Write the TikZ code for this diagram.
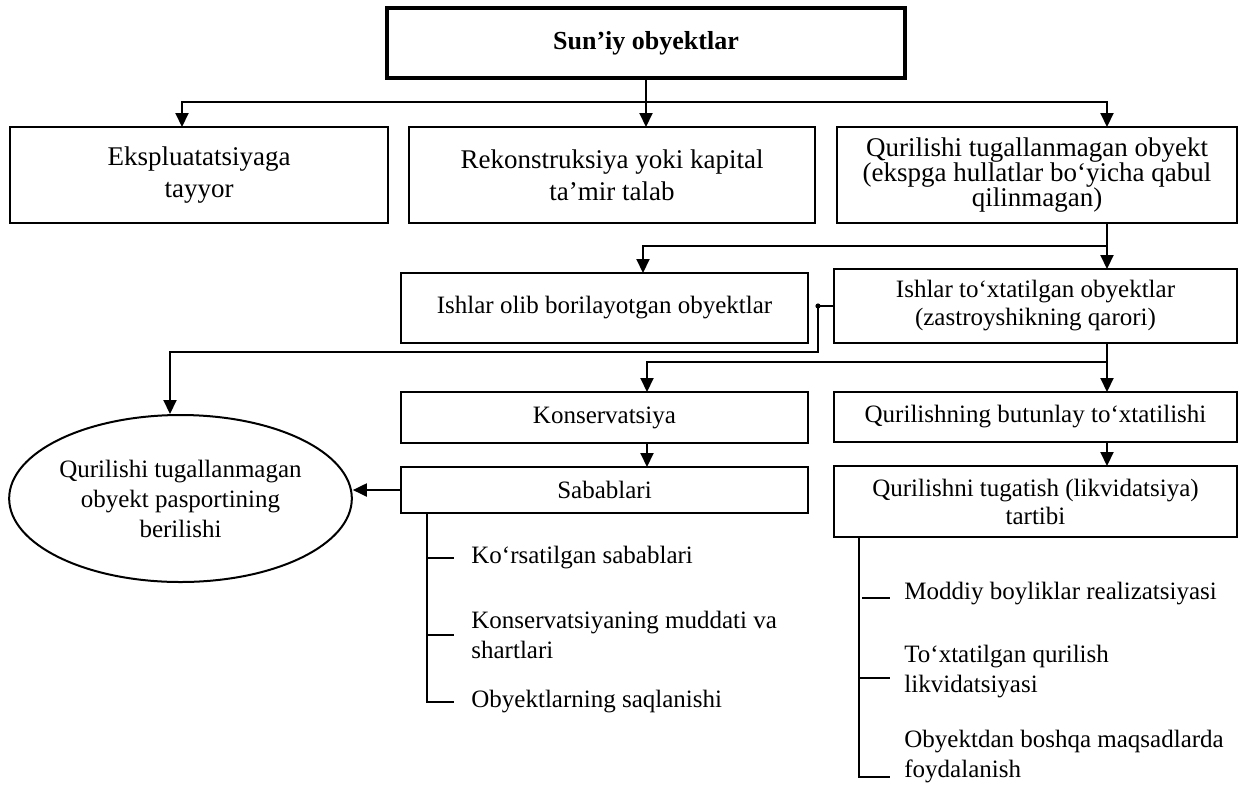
\documentclass[tikz,border=0pt]{standalone}
\usepackage{fontspec}
\setmainfont{Liberation Serif}
\usetikzlibrary{arrows.meta,shapes.geometric}

\begin{document}
\begin{tikzpicture}[x=0.5pt,y=-0.5pt,>={Triangle[width=6.5pt,length=7pt]},
    box/.style={draw, line width=1pt, inner sep=0pt, outer sep=0pt, align=center,
        font=\fontsize{12.5}{14}\selectfont},
    rowbox/.style={box, line width=1.3pt, font=\fontsize{13.5}{16}\selectfont},
    link/.style={line width=1pt},
    item/.style={anchor=west, align=left, inner sep=0pt, font=\fontsize{12.5}{15}\selectfont}]

\useasboundingbox (0,0) rectangle (1239,784);

% -------------------------
% Yuqori qism
% -------------------------
\node[box, line width=2pt, minimum width=259pt, minimum height=35pt,
    font=\fontsize{13}{15}\bfseries] (suniy) at (646,43) {Sun’iy obyektlar};

\node[rowbox, minimum width=189pt, minimum height=48pt] (eksp) at (199,175)
    {Ekspluatatsiyaga\\tayyor};
\node[rowbox, minimum width=203pt, minimum height=48pt] (rekon) at (612,175)
    {Rekonstruksiya yoki kapital\\ta’mir talab};
\node[rowbox, minimum width=200pt, minimum height=48pt,
    font=\fontsize{13.5}{12.5}\selectfont] (qurtug) at (1037,175)
    {Qurilishi tugallanmagan obyekt\\(ekspga hullatlar bo‘yicha qabul\\qilinmagan)};

% -------------------------
% O'rta qism
% -------------------------
\node[box, minimum width=203.5pt, minimum height=35pt] (olib) at (604.5,308)
    {Ishlar olib borilayotgan obyektlar};
\node[box, minimum width=201.5pt, minimum height=37pt] (toxt) at (1035.5,306)
    {Ishlar to‘xtatilgan obyektlar\\(zastroyshikning qarori)};

\node[box, minimum width=203.5pt, minimum height=25.5pt] (konserv) at (604.5,417.5)
    {Konservatsiya};
\node[box, minimum width=203.5pt, minimum height=23pt] (sabab) at (604.5,490)
    {Sabablari};
\node[box, minimum width=201.5pt, minimum height=25pt] (butun) at (1035.5,417)
    {Qurilishning butunlay to‘xtatilishi};
\node[box, minimum width=201.5pt, minimum height=35.5pt] (tugat) at (1035.5,501.5)
    {Qurilishni tugatish (likvidatsiya)\\tartibi};

\node[ellipse, draw, line width=1pt, inner sep=0pt, minimum width=167.5pt, minimum height=83.5pt,
    align=center, font=\fontsize{12.5}{15}\selectfont] (pasport) at (180.5,498.5)
    {Qurilishi tugallanmagan\\obyekt pasportining\\berilishi};

% -------------------------
% Ro'yxatlar
% -------------------------
\node[item] (sab1) at (471,558) {Ko‘rsatilgan sabablari};
\node[item] (sab2) at (471,635) {Konservatsiyaning muddati va\\shartlari};
\node[item] (sab3) at (471,702) {Obyektlarning saqlanishi};

\node[item] (tug1) at (904,594) {Moddiy boyliklar realizatsiyasi};
\node[item] (tug2) at (904,672) {To‘xtatilgan qurilish\\likvidatsiyasi};
\node[item] (tug3) at (904,757) {Obyektdan boshqa maqsadlarda\\foydalanish};

% -------------------------
% Tugun nuqtalari
% -------------------------
\coordinate (j0) at (646,102);
\coordinate (j0l) at (182,102);
\coordinate (j0r) at (1107,102);
\coordinate (j1) at (1107,246);
\coordinate (j1l) at (643,246);
\coordinate (j2) at (1107,362);
\coordinate (j2l) at (647,362);
\coordinate (b1) at (818,306);
\coordinate (b2) at (818,352);
\coordinate (b3) at (170,352);
\coordinate (s0) at (427,514);
\coordinate (t0) at (859,537);

% -------------------------
% Strelkalar
% -------------------------
\draw[link,->] (suniy.south) -- (rekon.north -| suniy.south);
\draw[link,->] (j0) -- (j0l) -- (eksp.north -| j0l);
\draw[link,->] (j0) -- (j0r) -- (qurtug.north -| j0r);

\draw[link,->] (qurtug.south -| j1) -- (toxt.north -| j1);
\draw[link,->] (j1) -- (j1l) -- (olib.north -| j1l);

\draw[link,->] (toxt.south -| j2) -- (butun.north -| j2);
\draw[link,->] (j2) -- (j2l) -- (konserv.north -| j2l);
\draw[link,->] (konserv.south -| j2l) -- (sabab.north -| j2l);
\draw[link,->] (butun.south -| j2) -- (tugat.north -| j2);

\draw[link,->] (toxt.west) -- (b1) -- (b2) -- (b3) -- (pasport.north -| b3);
\fill (b1) circle (1.3pt);
\draw[link,->] (sabab.west) -- (sabab.west -| pasport.east);

% -------------------------
% Qavslar
% -------------------------
\draw[link] (sabab.south -| s0) -- (s0 |- sab3.west) -- ([xshift=-8.5pt]sab3.west);
\foreach \n in {sab1,sab2}
    \draw[link] (s0 |- \n.west) -- ([xshift=-8.5pt]\n.west);

\draw[link] (tugat.south -| t0) -- ([yshift=-10pt]t0 |- tug3.west) -- ([xshift=-7pt,yshift=-10pt]tug3.west);
\draw[link] ([xshift=1.5pt,yshift=-2pt]t0 |- tug1.west) -- ([xshift=-7pt,yshift=-2pt]tug1.west);
\draw[link] ([yshift=-3pt]t0 |- tug2.west) -- ([xshift=-7pt,yshift=-3pt]tug2.west);

\end{tikzpicture}
\end{document}
